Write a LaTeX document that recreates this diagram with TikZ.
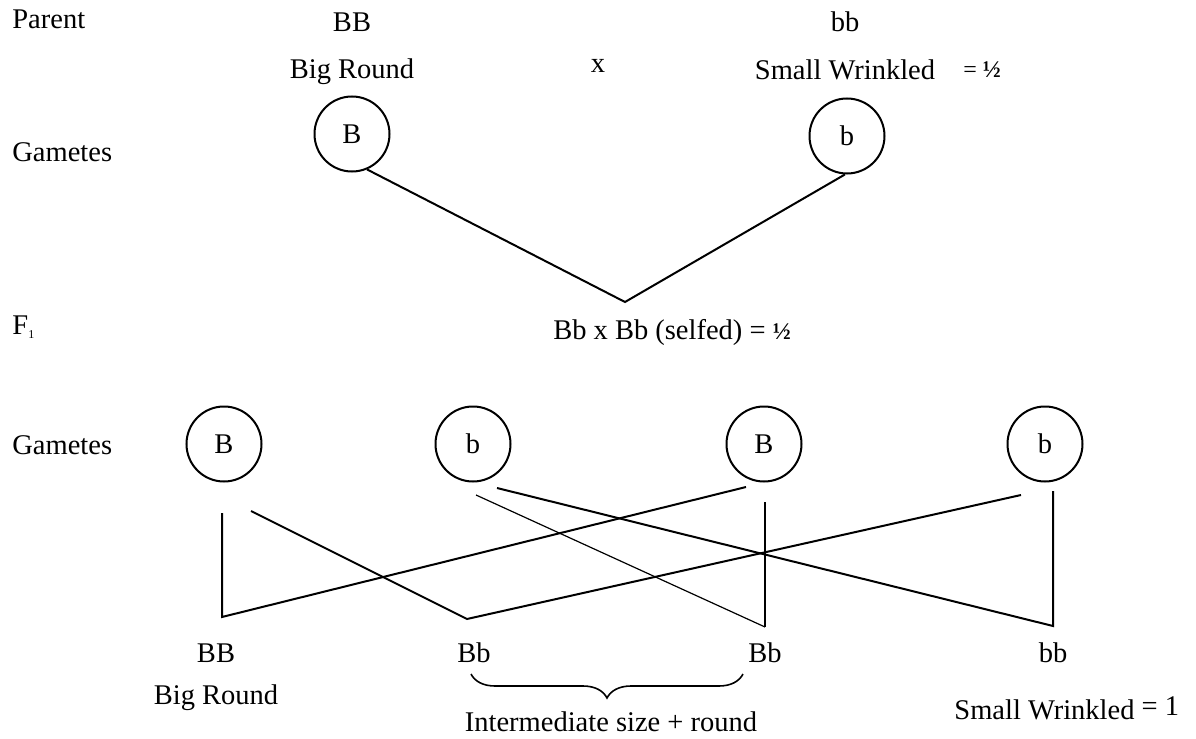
\documentclass[tikz,border=0pt]{standalone}
\usepackage{fontspec}
\setmainfont{Liberation Serif}
\usetikzlibrary{decorations.pathreplacing}
\begin{document}
\begin{tikzpicture}[x=0.5pt,y=-0.5pt,
  lbl/.style={inner sep=0pt, font=\fontsize{14.25}{17}\selectfont},
  smalllbl/.style={inner sep=0pt, font=\fontsize{12}{14}\selectfont},
  gam/.style={circle, draw, line width=1pt, minimum size=37.5pt, inner sep=0pt, font=\fontsize{14.25}{17}\selectfont},
  link/.style={line width=1pt},
  thinlink/.style={line width=0.6pt},
  bracestyle/.style={line width=0.8pt, decorate, decoration={brace, amplitude=12pt}}]
\useasboundingbox (0,0) rectangle (1196,739);

% Parent row
\node[lbl, anchor=base west] (parent) at (12,28) {Parent};
\node[lbl, anchor=base] (pBB) at (352,32) {BB};
\node[lbl, anchor=base] (pBR) at (352,78) {Big Round};
\node[lbl, anchor=base] (cross) at (598,72) {x};
\node[lbl, anchor=base] (pbb) at (845,32) {bb};
\node[lbl, anchor=base] (pSW) at (845,79) {Small Wrinkled};
\node[smalllbl, anchor=base west] (half1) at (963,77) {= \textbf{½}};

% Parent gametes
\node[lbl, anchor=base west] (gam1) at (12,161) {Gametes};
\node[gam] (gB) at (352,134) {B};
\node[gam] (gb) at (847,136) {b};
\coordinate (f1v) at (625,302);
\draw[link] (gB.-67) -- (f1v) -- (gb.-93);

% F1
\node[lbl, anchor=base west] (f1) at (12,334) {F\raisebox{-2pt}{\fontsize{6}{6}\selectfont 1}};
\node[lbl, anchor=base] (self) at (672,339) {Bb x Bb (selfed) = {\fontsize{12}{14}\selectfont\textbf{½}}};

% F1 gametes
\node[lbl, anchor=base west] (gam2) at (12,454) {Gametes};
\node[gam] (c1) at (224,444) {B};
\node[gam] (c2) at (473,444) {b};
\node[gam] (c3) at (764,444) {B};
\node[gam] (c4) at (1045,444) {b};

% line ends
\coordinate (a1) at (222,513);
\coordinate (a2) at (251,511);
\coordinate (b1) at (476,495);
\coordinate (b2) at (497,488);
\coordinate (d1) at (746,487);
\coordinate (d2) at (765,502);
\coordinate (e1) at (1021,495);
\coordinate (e2) at (1053,491);
\coordinate (vBB) at (222,617);
\coordinate (vBb1) at (467,619);
\coordinate (vBb2) at (765,627);
\coordinate (vbb) at (1053,626);

\draw[link] (a1) -- (vBB) -- (d1);
\draw[link] (a2) -- (vBb1) -- (e1);
\draw[thinlink] (b1) -- (vBb2);
\draw[link] (d2) -- (vBb2);
\draw[link] (b2) -- (vbb) -- (e2);

% offspring
\node[lbl, anchor=base] (oBB) at (216,662) {BB};
\node[lbl, anchor=base] (oBb1) at (474,662) {Bb};
\node[lbl, anchor=base] (oBb2) at (765,662) {Bb};
\node[lbl, anchor=base] (obb) at (1053,662) {bb};
\node[lbl, anchor=base] (oBR) at (216,704) {Big Round};
\coordinate (brR) at (743,674);
\coordinate (brL) at (471,674);
\draw[bracestyle] (brR) -- (brL);
\node[lbl, anchor=base] (inter) at (611,731) {Intermediate size + round};
\node[lbl, anchor=base west] (oSW) at (954,719) {Small Wrinkled \raisebox{2pt}{= 1}};
\end{tikzpicture}
\end{document}
